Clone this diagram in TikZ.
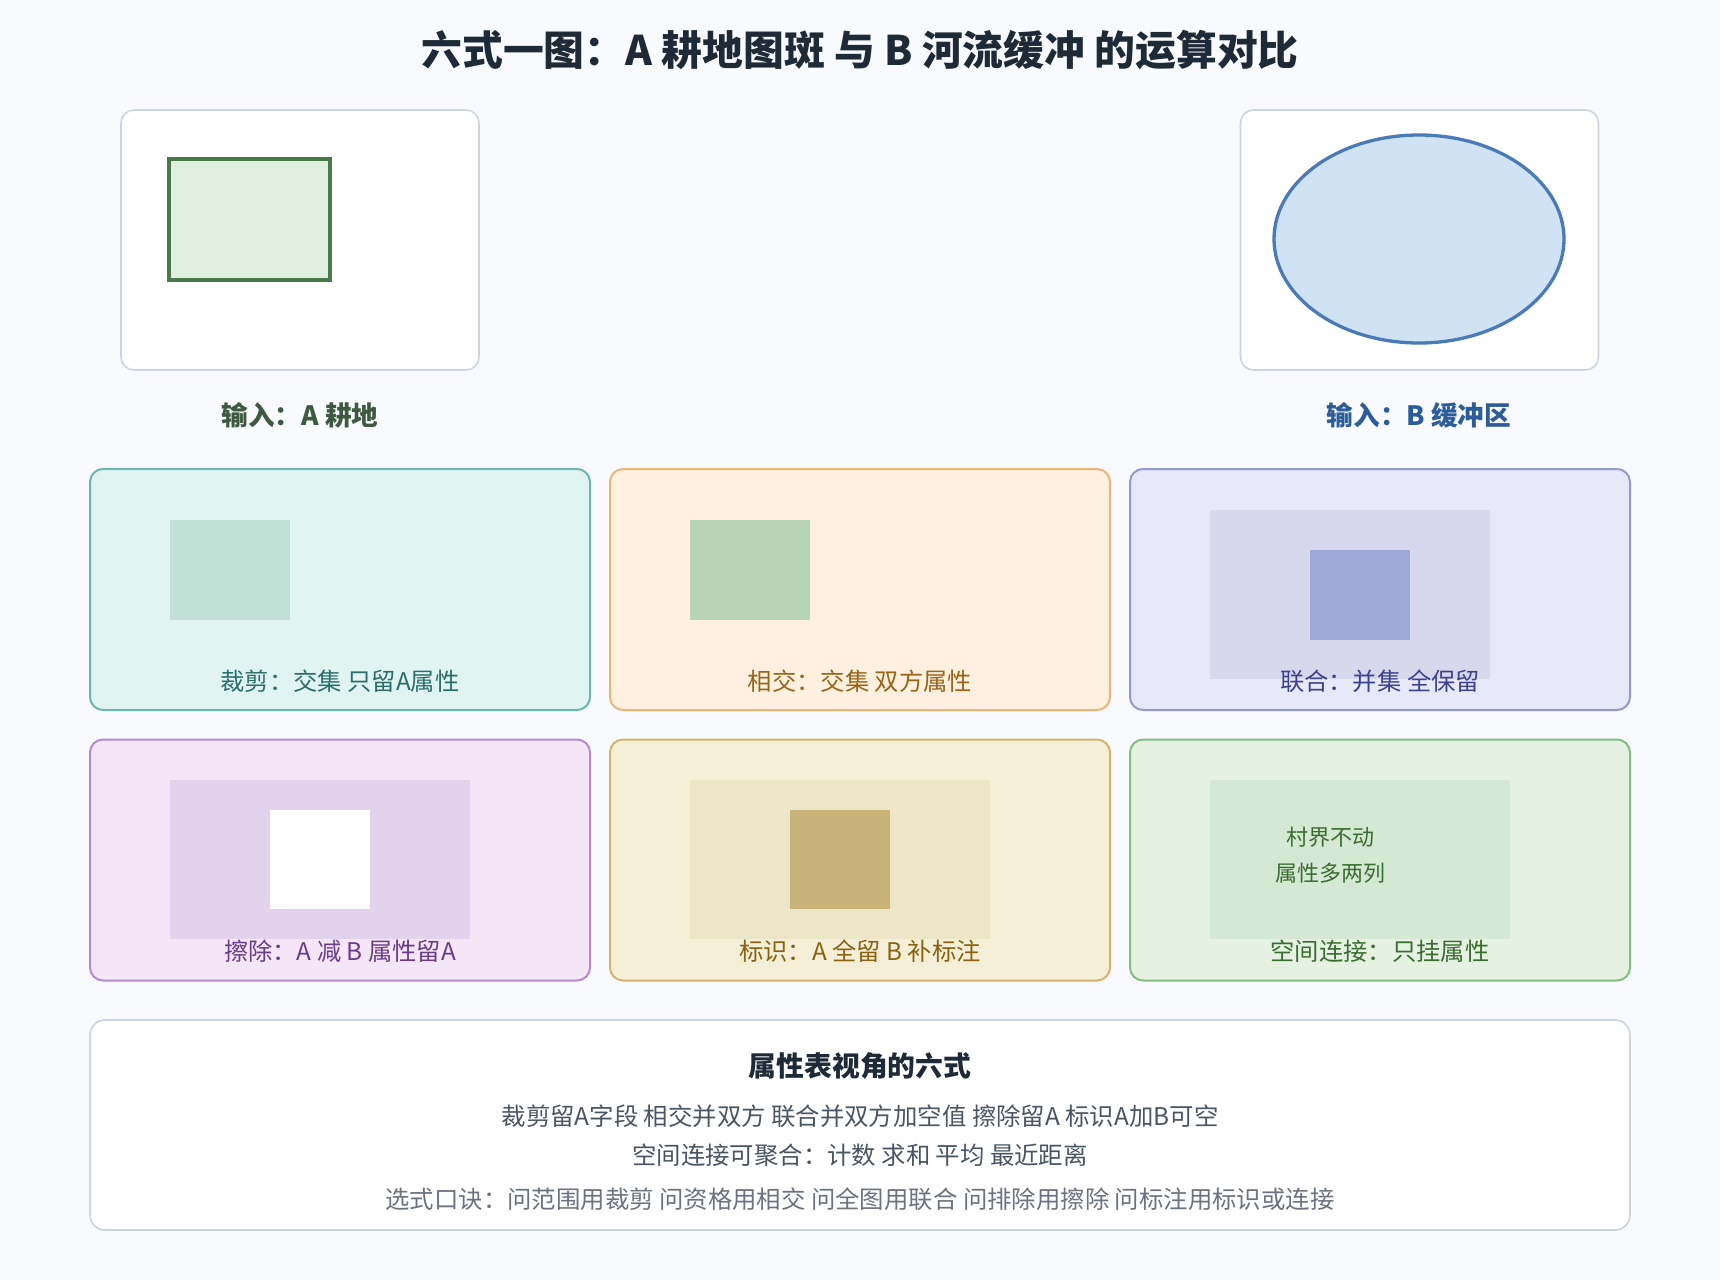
\documentclass[tikz,border=0pt]{standalone}
\usepackage{fontspec}
\setmainfont{Noto Sans CJK SC}
\usetikzlibrary{positioning,shapes.geometric}

\definecolor{pagebg}{HTML}{F9FAFD}
\definecolor{titlecol}{HTML}{1E2A38}
\definecolor{boxline}{HTML}{CBD5E1}
\definecolor{fieldfill}{HTML}{DFEFE0}
\definecolor{fieldline}{HTML}{4A7A4C}
\definecolor{fieldtext}{HTML}{3D5A40}
\definecolor{bufffill}{HTML}{CFE3F5}
\definecolor{buffline}{HTML}{4A7AB8}
\definecolor{bufftext}{HTML}{2C5C9A}
% six operation colours
\definecolor{clipbg}{HTML}{E0F4F2}\definecolor{clipln}{HTML}{6DB5B0}\definecolor{clipin}{HTML}{C0E0D6}\definecolor{cliptx}{HTML}{2A6E6A}
\definecolor{isecbg}{HTML}{FFF0E0}\definecolor{isecln}{HTML}{EDB478}\definecolor{isecin}{HTML}{B8D4B8}\definecolor{isectx}{HTML}{9A6418}
\definecolor{unionbg}{HTML}{E8E9F8}\definecolor{unionln}{HTML}{9499D0}\definecolor{unionout}{HTML}{D8D8EC}\definecolor{unionin}{HTML}{A0A8D8}\definecolor{uniontx}{HTML}{3C4290}
\definecolor{erasebg}{HTML}{F4E6F6}\definecolor{eraseln}{HTML}{B58AD0}\definecolor{eraseout}{HTML}{E2D2EC}\definecolor{erasetx}{HTML}{6A3C8A}
\definecolor{identbg}{HTML}{F6EFD8}\definecolor{identln}{HTML}{D2B46C}\definecolor{identout}{HTML}{EDE5C8}\definecolor{identin}{HTML}{C8B478}\definecolor{identtx}{HTML}{8A6212}
\definecolor{joinbg}{HTML}{E5F2E2}\definecolor{joinln}{HTML}{82BE80}\definecolor{joinout}{HTML}{D5E8D3}\definecolor{jointx}{HTML}{3A6E30}
\definecolor{bodytx}{HTML}{4A5563}
\definecolor{hinttx}{HTML}{6B7280}

\begin{document}
\begin{tikzpicture}[x=1pt,y=-1pt,
  inbox/.style={draw=boxline, fill=white, line width=1.6pt, rounded corners=13pt, minimum width=358pt, minimum height=260pt},
  inlabel/.style={font=\fontsize{26.6}{30}\selectfont\bfseries},
  panel/.style={rounded corners=13pt, line width=2pt, minimum width=500pt, minimum height=241pt},
  caption/.style={font=\fontsize{24.3}{28}\selectfont},
  bodyline/.style={font=\fontsize{24.4}{28}\selectfont, text=bodytx}]
\fill[pagebg] (0,0) rectangle (1720,1280);
\useasboundingbox (0,0) rectangle (1720,1280);

\node[font=\fontsize{40.8}{48}\selectfont\bfseries, text=titlecol] (title) at (860,50) {六式一图：A 耕地图斑 与 B 河流缓冲 的运算对比};

% inputs
\node[inbox] (boxA) at (300,240) {};
\node[draw=fieldline, fill=fieldfill, line width=3.3pt, minimum width=161pt, minimum height=121pt] (field) at (249.5,219.5) {};
\node[inlabel, text=fieldtext] (labA) at (300,415) {输入：A 耕地};
\node[inbox] (boxB) at (1419.5,240) {};
\node[ellipse, draw=buffline, fill=bufffill, line width=3.3pt, minimum width=290pt, minimum height=208pt, inner sep=0pt] (buffer) at (1419,239) {};
\node[inlabel, text=bufftext] (labB) at (1419,415) {输入：B 缓冲区};

% row 1
\node[panel, fill=clipbg, draw=clipln] (clip) at (340,589.5) {};
\fill[clipin] (170,520) rectangle (290,620);
\node[caption, text=cliptx] (clipcap) at (340,681) {裁剪：交集 只留A属性};

\node[panel, fill=isecbg, draw=isecln] (isec) at (860,589.5) {};
\fill[isecin] (690,520) rectangle (810,620);
\node[caption, text=isectx] (iseccap) at (860,681) {相交：交集 双方属性};

\node[panel, fill=unionbg, draw=unionln] (union) at (1380,589.5) {};
\fill[unionout] (1210,510) rectangle (1490,679);
\fill[unionin] (1310,550) rectangle (1410,640);
\node[caption, text=uniontx] (unioncap) at (1380,681) {联合：并集 全保留};

% row 2
\node[panel, fill=erasebg, draw=eraseln] (erase) at (340,860) {};
\fill[eraseout] (170,780) rectangle (470,939);
\fill[white] (270,810) rectangle (370,909);
\node[caption, text=erasetx] (erasecap) at (340,951) {擦除：A 减 B 属性留A};

\node[panel, fill=identbg, draw=identln] (ident) at (860,860) {};
\fill[identout] (690,780) rectangle (990,939);
\fill[identin] (790,810) rectangle (890,909);
\node[caption, text=identtx] (identcap) at (860,951) {标识：A 全留 B 补标注};

\node[panel, fill=joinbg, draw=joinln] (join) at (1380,860) {};
\fill[joinout] (1210,780) rectangle (1510,939);
\node[font=\fontsize{22}{36}\selectfont, text=jointx, align=center] (joinnote) at (1330,855) {村界不动\\属性多两列};
\node[caption, text=jointx] (joincap) at (1380,951) {空间连接：只挂属性};

% attribute table summary
\node[draw=boxline, fill=white, line width=1.6pt, rounded corners=15pt, minimum width=1540pt, minimum height=210pt] (summary) at (860,1125) {};
\node[font=\fontsize{27.8}{32}\selectfont\bfseries, text=titlecol] (sumtitle) at (860,1066) {属性表视角的六式};
\node[bodyline] (sumA) at (860,1116) {裁剪留A字段 相交并双方 联合并双方加空值 擦除留A 标识A加B可空};
\node[bodyline] (sumB) at (860,1155) {空间连接可聚合：计数 求和 平均 最近距离};
\node[bodyline, text=hinttx] (sumC) at (860,1199) {选式口诀：问范围用裁剪 问资格用相交 问全图用联合 问排除用擦除 问标注用标识或连接};
\end{tikzpicture}
\end{document}
